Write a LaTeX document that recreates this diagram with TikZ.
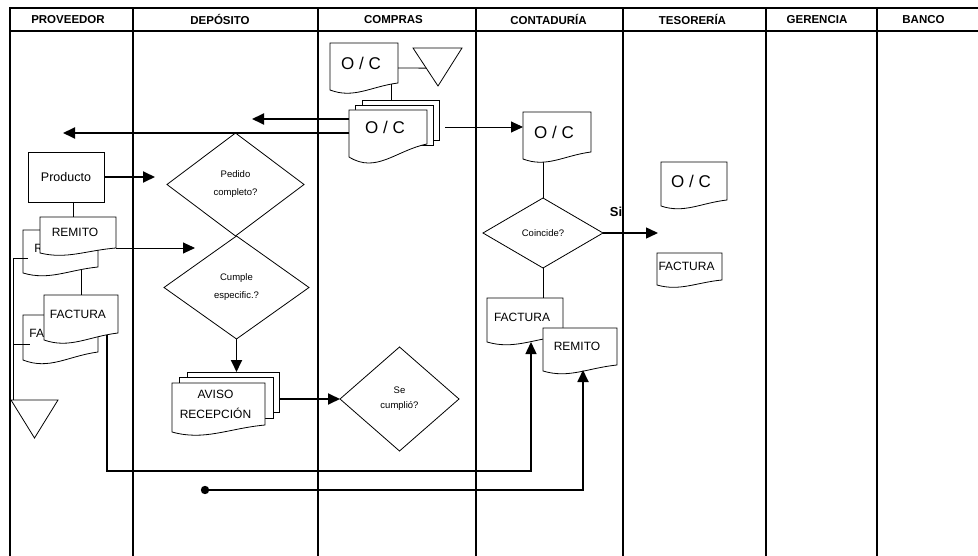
\documentclass[tikz,border=0pt]{standalone}
\usepackage{fontspec}
\setmainfont{Liberation Sans}
\usetikzlibrary{shapes.geometric,arrows.meta,calc}
\newcommand{\docpath}[2]{%
  \draw[docline] (#1.north west) -- (#1.north east) -- (#1.south east)
    .. controls ($(#1.south west)!0.6!(#1.south east)+(0,0.5*#2)$)
    and ($(#1.south west)!0.35!(#1.south east)+(0,2.3*#2)$)
    .. ($(#1.south west)+(0,#2)$) -- cycle;}
\newcommand{\docnode}[8]{%
  \node[docbox, minimum width=#4pt, minimum height=#5pt] (#1) at (#2,#3) {};
  \docpath{#1}{#6}
  \node[#8, xshift=-3pt] (#1t) at (#1.center) {#7};}
\begin{document}
\begin{tikzpicture}[x=1pt,y=-1pt,
  hdr/.style={font=\fontsize{11.5}{13}\selectfont\bfseries},
  docbox/.style={rectangle, inner sep=0pt, outer sep=0pt},
  docline/.style={draw=black, fill=white, line width=0.8pt},
  pagebox/.style={rectangle, draw=black, fill=white, line width=0.8pt, inner sep=0pt, outer sep=0pt},
  box/.style={rectangle, draw=black, fill=white, line width=0.8pt, inner sep=0pt, outer sep=0pt},
  octext/.style={font=\fontsize{17}{20}\selectfont},
  doctext/.style={font=\fontsize{12}{15}\selectfont},
  avtext/.style={font=\fontsize{12}{20}\selectfont, align=center},
  dia/.style={diamond, draw=black, fill=white, line width=0.8pt, inner sep=0pt, outer sep=0pt, align=center, font=\fontsize{9.5}{18}\selectfont},
  sitext/.style={font=\fontsize{13}{15}\selectfont\bfseries},
  thinline/.style={line width=0.8pt},
  midline/.style={line width=1.3pt},
  tipA/.style={-{Triangle[length=12pt,width=11pt]}},
  arrthin/.style={line width=0.9pt, tipA},
  arrmid/.style={line width=1.4pt, tipA},
  arrthick/.style={line width=1.8pt, tipA},
  dot/.style={circle, fill=black, inner sep=0pt, minimum size=8.4pt}
]
\useasboundingbox (0,0) rectangle (978,556);
% swimlanes
\draw[line width=2pt] (9,8) -- (978,8);
\draw[line width=2pt] (9,31) -- (978,31);
\draw[line width=2pt] (10,7) -- (10,556);
\draw[line width=1.2pt] (133,8) -- (133,556);
\draw[line width=2.5pt] (318,8) -- (318,556);
\draw[line width=2.5pt] (476,8) -- (476,556);
\draw[line width=1.6pt] (623,8) -- (623,556);
\draw[line width=1.2pt] (766,8) -- (766,556);
\draw[line width=1.2pt] (877,8) -- (877,556);
\node[hdr] (h1) at (68,19.5) {PROVEEDOR};
\node[hdr] (h2) at (220,19.5) {DEPÓSITO};
\node[hdr] (h3) at (393.5,19.5) {COMPRAS};
\node[hdr] (h4) at (548.5,19.5) {CONTADURÍA};
\node[hdr] (h5) at (692.5,19.5) {TESORERÍA};
\node[hdr] (h6) at (817,19.5) {GERENCIA};
\node[hdr] (h7) at (923.5,19.5) {BANCO};

% PROVEEDOR
\node[box, minimum width=76pt, minimum height=50pt, font=\fontsize{12.5}{15}\selectfont] (prod) at (66,177) {Producto};
\docnode{remb}{60.5}{248.5}{75}{37}{6}{REMITO}{doctext}
\docnode{remf}{78}{232.5}{76}{31}{5}{REMITO}{doctext}
\docnode{facb}{60.5}{333.5}{75}{37}{8}{FACTURA}{doctext}
\docnode{facf}{81}{314}{74}{38}{7}{FACTURA}{doctext}
\draw[thinline] (11,400) coordinate (t2a) -- (58,400) coordinate (t2b) -- (34.5,438) coordinate (t2c) -- cycle;

% COMPRAS
\docnode{oc1}{364}{63}{68}{40}{7}{O / C}{octext}
\draw[thinline] (413,48) coordinate (t1a) -- (462,48) coordinate (t1b) -- (438,86) coordinate (t1c) -- cycle;
\node[pagebox, minimum width=77pt, minimum height=40pt] (ocsb) at (400.5,120) {};
\node[pagebox, minimum width=78pt, minimum height=40pt] (ocsm) at (394,125) {};
\docnode{ocs}{388}{127}{78}{34}{13}{O / C}{octext}

% DEPOSITO
\node[dia, minimum width=137pt, minimum height=103pt] (ped) at (235.5,184.5) {Pedido\\completo?};
\node[dia, minimum width=145pt, minimum height=103pt] (cum) at (236.5,287.5) {Cumple\\especific.?};
\node[pagebox, minimum width=92pt, minimum height=40pt] (avb) at (233,392) {};
\node[pagebox, minimum width=94pt, minimum height=41pt] (avm) at (226,397.5) {};
\docnode{avf}{218.5}{404}{93}{42}{7}{AVISO\\RECEPCIÓN}{avtext}
\node[dia, minimum width=119pt, minimum height=104pt, font=\fontsize{9.5}{15}\selectfont] (sec) at (399.5,399) {Se\\cumplió?};

% CONTADURIA
\docnode{oc2}{557}{132}{68}{40}{7}{O / C}{octext}
\node[dia, minimum width=120pt, minimum height=70pt] (coin) at (543,233) {Coincide?};
\docnode{facc}{525}{317}{76}{38}{6}{FACTURA}{doctext}
\docnode{remc}{580}{346.5}{74}{37}{6}{REMITO}{doctext}

% TESORERIA
\docnode{oc3}{694}{181}{66}{38}{6}{O / C}{octext}
\docnode{fact}{689.5}{266.5}{65}{27}{5}{FACTURA}{doctext}
\node[sitext] (silab) at (616,212) {Si};

% connectors
\coordinate (oc1out) at ($(oc1.east)+(0,5)$);
\coordinate (t1in) at ($(t1a)!0.53!(t1c)$);
\draw[thinline] (oc1out) -- (t1in);
\coordinate (c1) at ($(oc1.south east)+(-7,1)$);
\draw[thinline] (c1) -- (c1 |- ocsb.north);
\coordinate (a1) at (252,119);
\draw[arrthick] (ocs.west |- a1) -- (a1);
\coordinate (a2) at (63,133);
\draw[arrthick] (ocs.west |- a2) -- (a2);
\coordinate (s3) at ($(ocs.east)+(18,0)$);
\draw[arrthin] (s3) -- (s3 -| oc2.west);
\draw[thinline] (coin.north) -- ++(0,-36);
\coordinate (si) at (658,233);
\draw[arrmid] (coin.east) -- (si);
\draw[thinline] (coin.south) -- (coin.south |- facc.north);
\coordinate (p1) at (155,177);
\draw[arrthick] (prod.east) -- (p1);
\draw[thinline] ([xshift=7pt]prod.south) -- ([xshift=7pt]prod.south |- remf.north);
\coordinate (p2) at (195,248);
\draw[arrthin] (remf.south east) -- (p2);
\draw[thinline] (facf.north) -- ++(0,-25);
\coordinate (v1) at (13,258);
\coordinate (v2) at (13,344);
\draw[thinline] (v1) -- (v1 |- t2a);
\draw[thinline] (v1) -- ++(15,0);
\draw[thinline] (v2) -- ++(17,0);
\coordinate (b0) at (107,335);
\coordinate (yb1) at (0,471);
\coordinate (ftip) at ($(facc.south west)+(44,6)$);
\draw[arrmid] (b0) -- (b0 |- yb1) -- (ftip |- yb1) -- (ftip);
\node[dot] (d0) at (205,490) {};
\coordinate (rtip) at ($(remc.south west)+(40,5)$);
\draw[arrthick] (d0.center) -- (rtip |- d0) -- (rtip);
\draw[arrthick] (cum.south) -- (cum.south |- avb.north);
\draw[arrthick] (sec.west -| avb.east) -- (sec.west);
\end{tikzpicture}
\end{document}
